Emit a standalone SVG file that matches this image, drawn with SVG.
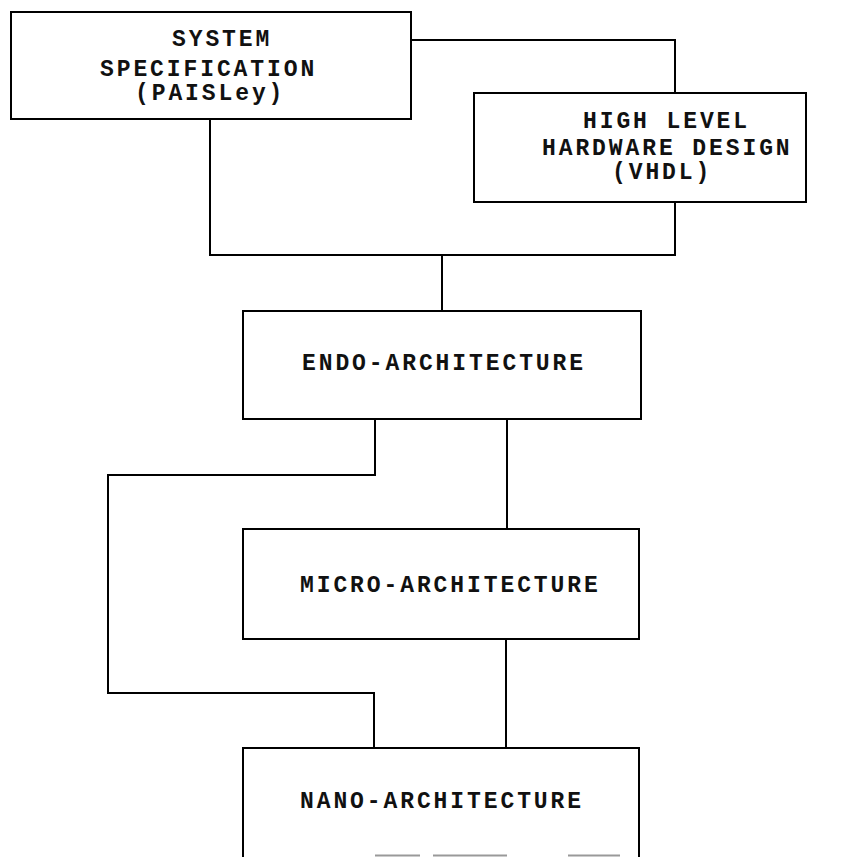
<svg xmlns="http://www.w3.org/2000/svg" width="861" height="857" viewBox="0 0 861 857">
<style>
.box{fill:#fff;stroke:#000;stroke-width:2}
.ln{fill:none;stroke:#000;stroke-width:2}
.t{font-family:"Liberation Mono","DejaVu Sans Mono",monospace;font-weight:bold;font-size:23px;letter-spacing:2.9px;fill:#111}
</style>
<rect width="861" height="857" fill="#fff"/>
<g id="connectors">
<polyline class="ln" points="411,40 675,40 675,93"/>
<polyline class="ln" points="210,119 210,255 675,255 675,202"/>
<line class="ln" x1="442" y1="255" x2="442" y2="311"/>
<polyline class="ln" points="375,419 375,475 108,475 108,693 374,693 374,748"/>
<line class="ln" x1="507" y1="419" x2="507" y2="529"/>
<line class="ln" x1="506" y1="639" x2="506" y2="748"/>
</g>
<g id="system-spec">
<rect class="box" x="11" y="12" width="400" height="107"/>
<text class="t" x="172" y="46">SYSTEM</text>
<text class="t" x="100" y="76">SPECIFICATION</text>
<text class="t" x="135" y="100">(PAISLey)</text>
</g>
<g id="hw-design">
<rect class="box" x="474" y="93" width="332" height="109"/>
<text class="t" x="583" y="128">HIGH LEVEL</text>
<text class="t" x="542" y="155">HARDWARE DESIGN</text>
<text class="t" x="612" y="179">(VHDL)</text>
</g>
<g id="endo">
<rect class="box" x="243" y="311" width="398" height="108"/>
<text class="t" x="302" y="370">ENDO-ARCHITECTURE</text>
</g>
<g id="micro">
<rect class="box" x="243" y="529" width="396" height="110"/>
<text class="t" x="300" y="592">MICRO-ARCHITECTURE</text>
</g>
<g id="nano">
<polyline class="ln" points="243,860 243,748 639,748 639,860"/>
<path d="M375,855.5H420M433,855.5H507M568,855.5H620" stroke="#999" stroke-width="2" fill="none"/>
<text class="t" x="300" y="808">NANO-ARCHITECTURE</text>
</g>
</svg>
